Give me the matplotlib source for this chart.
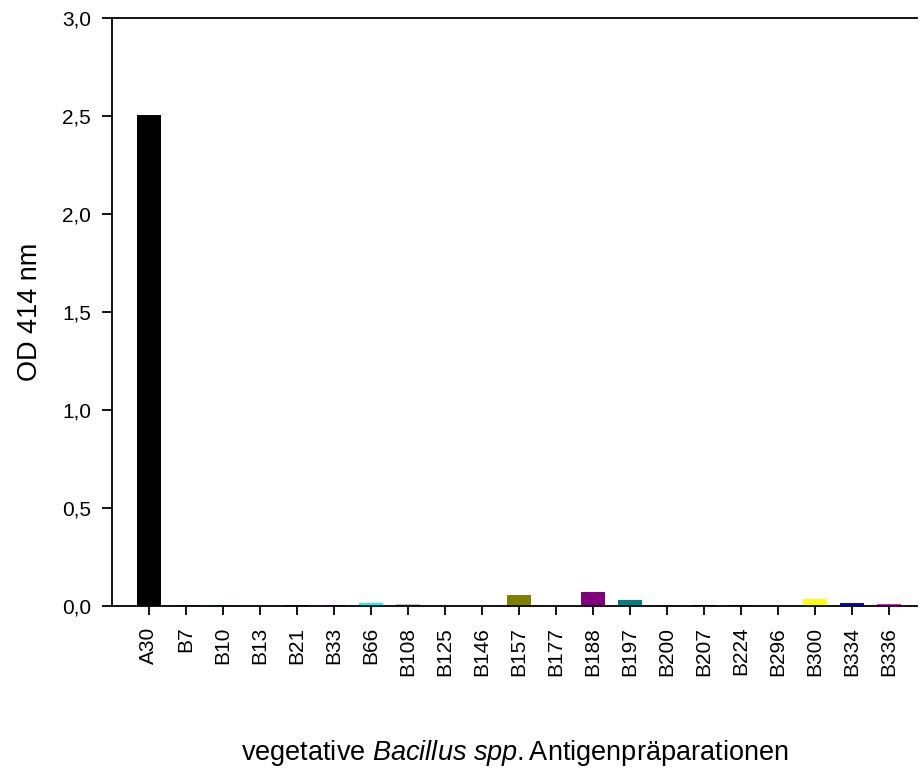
import matplotlib
matplotlib.use('Agg')
import matplotlib.pyplot as plt
import numpy as np

# OD readings per antigen preparation
strains = ['A30', 'B7', 'B10', 'B13', 'B21', 'B33', 'B66', 'B108', 'B125',
           'B146', 'B157', 'B177', 'B188', 'B197', 'B200', 'B207', 'B224',
           'B296', 'B300', 'B334', 'B336']
od414 = [2.505, 0.006, 0.006, 0.0, 0.006, 0.006, 0.016, 0.01, 0.0,
         0.0, 0.056, 0.0, 0.071, 0.031, 0.006, 0.006, 0.006,
         0.0, 0.036, 0.016, 0.011]
bar_colors = ['#000000', '#ff0000', '#00ff00', '#ffff00', '#0000ff', '#ff00ff',
              '#00ffff', '#c0c0c0', '#800000', '#008000', '#808000', '#000080',
              '#800080', '#008080', '#808080', '#000000', '#ff0000', '#00ff00',
              '#ffff00', '#0000ff', '#ff00ff']
yticks = [0.0, 0.5, 1.0, 1.5, 2.0, 2.5, 3.0]

plt.rcParams['font.family'] = ['Liberation Sans', 'DejaVu Sans']
plt.rcParams['mathtext.fontset'] = 'custom'
plt.rcParams['mathtext.rm'] = 'Liberation Sans'
plt.rcParams['mathtext.it'] = 'Liberation Sans:italic'

fig = plt.figure(figsize=(9.2, 7.69), dpi=100)
ax = fig.add_axes([0.1217, 0.212, 0.875, 0.764])

x = np.arange(len(strains))
ax.bar(x, od414, width=0.65, color=bar_colors, edgecolor='none')

ax.set_xlim(-0.99, len(strains) - 0.25)
ax.set_ylim(0, 3.0)
ax.set_yticks(yticks)
ax.set_yticklabels([('%.1f' % v).replace('.', ',') for v in yticks])
ax.set_xticks(x)
ax.set_xticklabels(strains, rotation=90, ha='center', va='top')

ax.spines['right'].set_visible(False)
for s in ['left', 'bottom', 'top']:
    ax.spines[s].set_linewidth(1.3)
ax.tick_params(axis='y', direction='out', length=7, width=1.3, pad=8,
               labelsize=15)
ax.tick_params(axis='x', direction='out', length=6.5, width=1.3, pad=8.5,
               labelsize=15)

ax.set_ylabel('OD 414 nm', fontsize=19.5, labelpad=14)
# mathtext already pads after the period, so no extra space before Antigen...
ax.set_xlabel(r'vegetative $\it{Bacillus\ spp.}$Antigenpräparationen',
              fontsize=19.5, labelpad=45)

fig.savefig('out.png', dpi=100)
